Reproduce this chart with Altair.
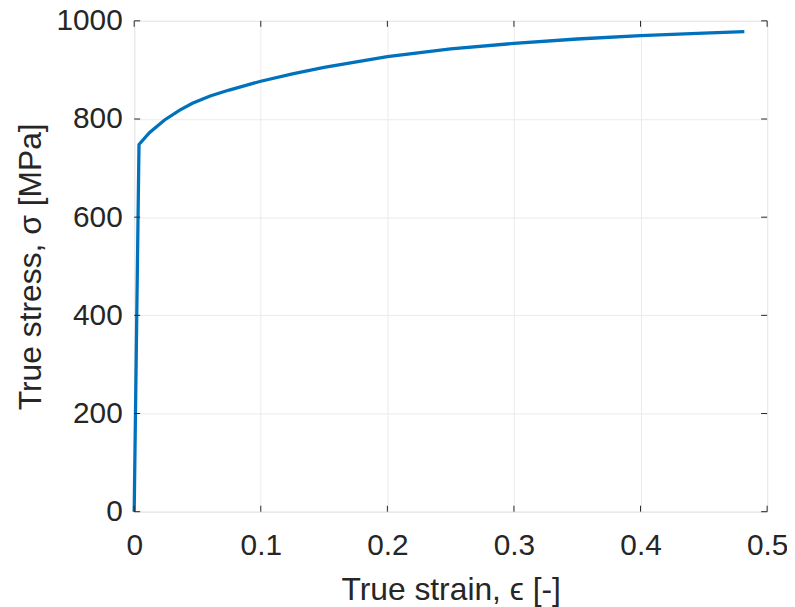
import altair as alt
import pandas as pd

# Data
strain = [0.0, 0.0038, 0.012, 0.024, 0.036, 0.046, 0.06, 0.075, 0.10, 0.125, 0.15, 0.20, 0.25, 0.30, 0.35, 0.40, 0.45, 0.482]
stress = [0.0, 748, 772, 798, 818, 832, 847, 859, 877, 892, 905, 927, 943, 954, 963, 970, 975, 978]
x_ticks = [0, 0.1, 0.2, 0.3, 0.4, 0.5]
y_ticks = [0, 200, 400, 600, 800, 1000]

W, H = 637, 494
FONT = "Liberation Sans"
TXT = "#262626"
LFS = 30
TFS = 32

df = pd.DataFrame({"strain": strain, "stress": stress})
xt = pd.DataFrame({"v": x_ticks})
yt = pd.DataFrame({"v": y_ticks})

xs = alt.Scale(domain=[0, 0.5], nice=False, zero=False)
ys = alt.Scale(domain=[0, 1000], nice=False, zero=False)

common_axis = dict(
    grid=True, gridColor="#ebebeb", gridWidth=1, tickSize=0, domain=False,
    labelFont=FONT, titleFont=FONT, labelFontSize=LFS, titleFontSize=TFS,
    labelColor=TXT, titleColor=TXT, titleFontWeight="normal",
    labelFlush=False, labelOverlap=False,
)
x_axis = alt.Axis(values=x_ticks, title="True strain, ϵ [-]", format="~g",
                  labelPadding=19, titlePadding=14, **common_axis)
y_axis = alt.Axis(values=y_ticks, title="True stress, σ [MPa]", format="d",
                  labelPadding=12, titlePadding=9, **common_axis)

line = alt.Chart(df).mark_line(color="#0072BD", strokeWidth=3.3).encode(
    x=alt.X("strain:Q", scale=xs, axis=x_axis),
    y=alt.Y("stress:Q", scale=ys, axis=y_axis),
)

tick_style = dict(color=TXT, strokeWidth=1)
xb = alt.Chart(xt).mark_rule(**tick_style).encode(
    x=alt.X("v:Q", scale=xs, axis=x_axis), y=alt.value(H), y2=alt.value(H - 6))
xtop = alt.Chart(xt).mark_rule(**tick_style).encode(
    x=alt.X("v:Q", scale=xs, axis=x_axis), y=alt.value(0), y2=alt.value(6))
yl = alt.Chart(yt).mark_rule(**tick_style).encode(
    y=alt.Y("v:Q", scale=ys, axis=y_axis), x=alt.value(0), x2=alt.value(6))
yr = alt.Chart(yt).mark_rule(**tick_style).encode(
    y=alt.Y("v:Q", scale=ys, axis=y_axis), x=alt.value(W), x2=alt.value(W - 6))

chart = alt.layer(line, xb, xtop, yl, yr).properties(
    width=W, height=H,
    autosize=alt.AutoSizeParams(type="none"),
    padding={"left": 127, "top": 11, "right": 20, "bottom": 94},
).configure_view(stroke=TXT, strokeWidth=1).configure(background="white")

chart.save("out.html", embed_options={"renderer": "svg", "actions": False})
